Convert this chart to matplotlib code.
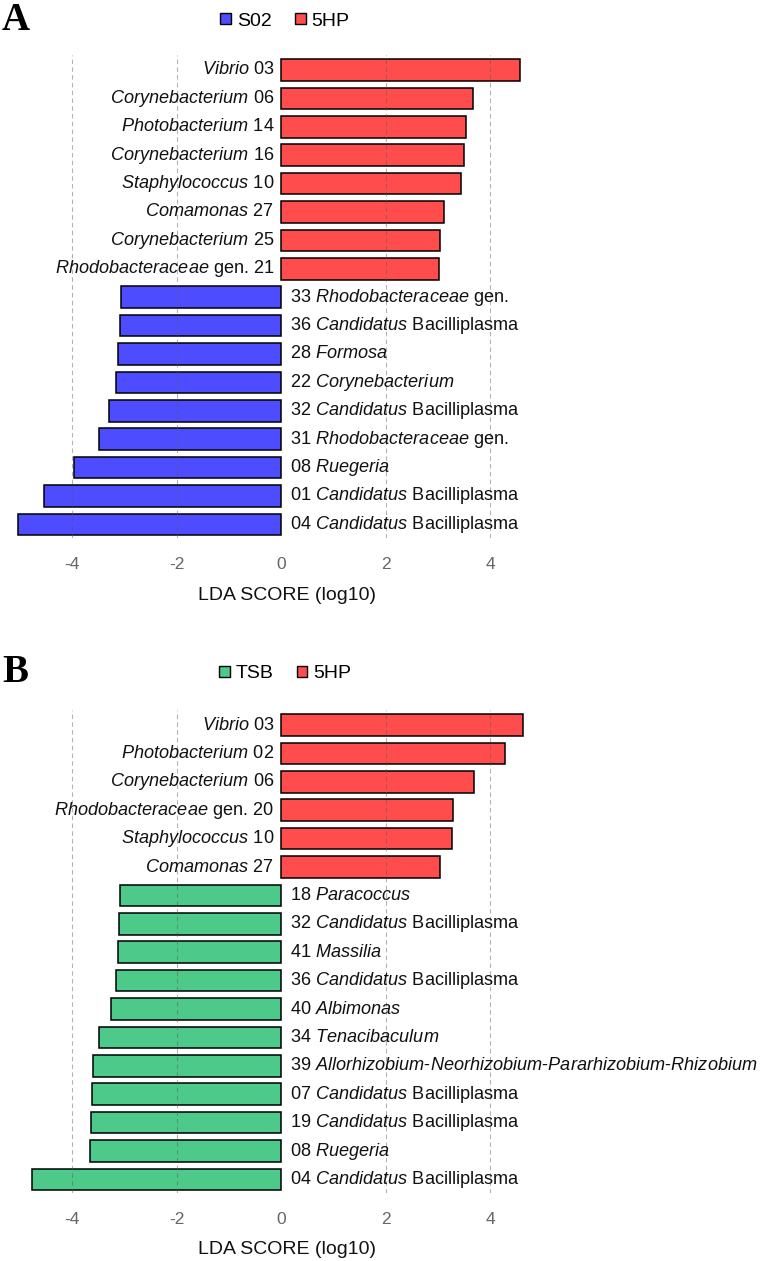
#!/usr/bin/env python

# LEfSe style LDA score bars, two panels (A: S02 v 5HP, B: TSB v 5HP)

import matplotlib
matplotlib.use('Agg')
import matplotlib.pyplot as plt
from matplotlib.patches import Patch

plt.rcParams['font.family'] = ['Liberation Sans', 'DejaVu Sans']
plt.rcParams['mathtext.fontset'] = 'custom'
plt.rcParams['mathtext.rm'] = 'Liberation Sans'
plt.rcParams['mathtext.it'] = 'Liberation Sans:italic'
plt.rcParams['axes.unicode_minus'] = False

# Panel A data (top to bottom)
a_labels = [r'$\mathit{Vibrio}$ 03',
            r'$\mathit{Corynebacterium}$ 06',
            r'$\mathit{Photobacterium}$ 14',
            r'$\mathit{Corynebacterium}$ 16',
            r'$\mathit{Staphylococcus}$ 10',
            r'$\mathit{Comamonas}$ 27',
            r'$\mathit{Corynebacterium}$ 25',
            r'$\mathit{Rhodobacteraceae}$ gen. 21',
            r'33 $\mathit{Rhodobacteraceae}$ gen.',
            r'36 $\mathit{Candidatus}$ Bacilliplasma',
            r'28 $\mathit{Formosa}$',
            r'22 $\mathit{Corynebacterium}$',
            r'32 $\mathit{Candidatus}$ Bacilliplasma',
            r'31 $\mathit{Rhodobacteraceae}$ gen.',
            r'08 $\mathit{Ruegeria}$',
            r'01 $\mathit{Candidatus}$ Bacilliplasma',
            r'04 $\mathit{Candidatus}$ Bacilliplasma']
a_scores = [4.56, 3.66, 3.53, 3.50, 3.44, 3.12, 3.04, 3.02,
            -3.06, -3.08, -3.12, -3.16, -3.30, -3.48, -3.96, -4.54, -5.04]
a_groups = ['S02', '5HP']

# Panel B data (top to bottom)
b_labels = [r'$\mathit{Vibrio}$ 03',
            r'$\mathit{Photobacterium}$ 02',
            r'$\mathit{Corynebacterium}$ 06',
            r'$\mathit{Rhodobacteraceae}$ gen. 20',
            r'$\mathit{Staphylococcus}$ 10',
            r'$\mathit{Comamonas}$ 27',
            r'18 $\mathit{Paracoccus}$',
            r'32 $\mathit{Candidatus}$ Bacilliplasma',
            r'41 $\mathit{Massilia}$',
            r'36 $\mathit{Candidatus}$ Bacilliplasma',
            r'40 $\mathit{Albimonas}$',
            r'34 $\mathit{Tenacibaculum}$',
            r'39 $\mathit{Allorhizobium}$-$\mathit{Neorhizobium}$-$\mathit{Pararhizobium}$-$\mathit{Rhizobium}$',
            r'07 $\mathit{Candidatus}$ Bacilliplasma',
            r'19 $\mathit{Candidatus}$ Bacilliplasma',
            r'08 $\mathit{Ruegeria}$',
            r'04 $\mathit{Candidatus}$ Bacilliplasma']
b_scores = [4.62, 4.28, 3.69, 3.28, 3.27, 3.04,
            -3.08, -3.10, -3.12, -3.16, -3.26, -3.49, -3.60, -3.63, -3.64, -3.66, -4.78]
b_groups = ['TSB', '5HP']

colours = {'S02': '#4d4dff', '5HP': '#ff4d4d', 'TSB': '#4dc98a'}
x_ticks = [-4, -2, 0, 2, 4]
grid_x = [-4, -2, 2, 4]

# Figure geometry in pixels
W, H = 762, 1261
x0_px = 281.3     # pixel position of LDA=0
unit_px = 52.25   # pixels per LDA unit
bar_step = 28.4   # pixels between bar centres

fig = plt.figure(figsize=(W/100, H/100), dpi=100, facecolor='white')


def panel(letter, labels, scores, groups, top_px, bottom_px, first_px, legend_px):
    ax = fig.add_axes([0, 1-bottom_px/H, 1, (bottom_px-top_px)/H])
    ax.set_xlim(-x0_px/unit_px, (W-x0_px)/unit_px)
    ax.set_ylim((bottom_px-first_px)/bar_step, (top_px-first_px)/bar_step)
    neg, pos = groups
    cols = [colours[pos] if s > 0 else colours[neg] for s in scores]
    ax.barh(range(len(scores)), scores, height=0.76, color=cols,
            edgecolor='black', linewidth=1.1, zorder=2)
    for v in grid_x:
        ax.axvline(v, color='#555555', alpha=0.45, linestyle=(0, (4, 3)),
                   linewidth=0.8, zorder=3)
    for i, (lab, s) in enumerate(zip(labels, scores)):
        if s > 0:
            ax.annotate(lab, xy=(0, i), xytext=(-5, 0), textcoords='offset points',
                        ha='right', va='center', fontsize=13.1, color='#111111')
        else:
            ax.annotate(lab, xy=(0, i), xytext=(6, 0), textcoords='offset points',
                        ha='left', va='center', fontsize=13.1, color='#111111')
    for sp in ax.spines.values():
        sp.set_visible(False)
    ax.set_yticks([])
    ax.set_xticks(x_ticks)
    ax.set_xticklabels([str(t) for t in x_ticks])
    ax.tick_params(axis='x', length=0, pad=14, labelsize=12.5, labelcolor='#666666')
    ax.patch.set_alpha(0)
    fig.text(287/W, 1-(bottom_px+57)/H, 'LDA SCORE (log10)', ha='center',
             va='center', fontsize=14, color='#111111')
    fig.text(2/W, 1-(legend_px-1)/H, letter, ha='left', va='center',
             fontfamily='Liberation Serif', fontweight='bold', fontsize=28)
    handles = [Patch(facecolor=colours[g], edgecolor='black', linewidth=1.0)
               for g in groups]
    fig.legend(handles, groups, loc='center', bbox_to_anchor=(285/W, 1-legend_px/H),
               ncol=2, frameon=False, fontsize=14, handlelength=0.55,
               handleheight=0.55, handletextpad=0.3, columnspacing=1.2,
               borderpad=0, borderaxespad=0)
    return ax


panel('A', a_labels, a_scores, a_groups, 55, 538, 70, 21)
panel('B', b_labels, b_scores, b_groups, 710, 1193, 725, 674)

fig.savefig('out.png', dpi=100)
